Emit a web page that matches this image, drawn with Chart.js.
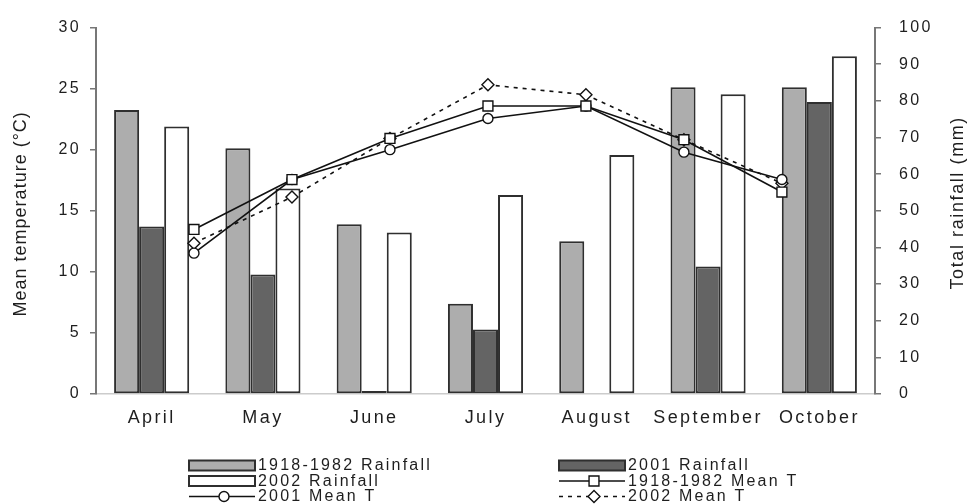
<!DOCTYPE html>
<html>
<head>
<meta charset="utf-8">
<script src="https://cdn.jsdelivr.net/npm/chart.js@4.4.0/dist/chart.umd.min.js"></script>
<style>
  html, body { margin: 0; padding: 0; background: #fff; }
  #wrap { width: 972px; height: 504px; position: relative; }
  #wrap canvas { position: absolute; left: 0; top: 0; }
  #lines { pointer-events: none; }
</style>
</head>
<body>
<div id="wrap">
  <canvas id="bars" width="972" height="504"></canvas>
  <canvas id="lines" width="972" height="504"></canvas>
</div>
<script>
// Monthly rainfall (mm, right axis) and mean temperature (°C, left axis)
const months = ['April', 'May', 'June', 'July', 'August', 'September', 'October'];

const rainLongTerm = [77.5, 67.1, 46.3, 24.6, 41.7, 83.7, 83.7];
const rain2001     = [45.7, 32.6, 0.8, 17.6, 0, 34.8, 79.7];
const rain2002     = [73.0, 56.1, 44.1, 54.3, 65.2, 81.8, 92.2];

const tempLongTerm = [13.2, 17.2, 20.5, 23.1, 23.1, 20.4, 16.2];
const temp2001     = [11.3, 17.2, 19.6, 22.1, 23.1, 19.4, 17.2];
const temp2002     = [12.1, 15.8, 20.5, 24.8, 24.0, 20.4, 16.9];

const tempAxis = { min: 0, max: 30, step: 5 };
const rainAxis = { min: 0, max: 100, step: 10 };

const FONT = "'Liberation Sans', Arial, sans-serif";
const INK = '#1e1e1e';
const AXIS = '#777777';

// plot frame shared by both layers
const FRAME = { left: 96, right: 97, top: 20, xAxisH: 40, bottom: 70 };

// temperature series sit on their own month index scale (1..7)
const toPoints = arr => arr.map((v, i) => ({ x: i + 1, y: v }));

const barBase = {
  yAxisID: 'y2',
  borderColor: '#2f2f2f',
  borderWidth: 2,
  borderSkipped: false,
  categoryPercentage: 0.675,
  barPercentage: 1
};
const lineBase = {
  borderColor: '#111',
  borderWidth: 1.6,
  pointBackgroundColor: '#fff',
  pointBorderColor: '#111',
  pointBorderWidth: 1.4,
  tension: 0,
  fill: false
};

const barSets = [
  { ...barBase, label: '1918-1982 Rainfall', data: rainLongTerm, backgroundColor: '#adadad' },
  { ...barBase, label: '2001 Rainfall', data: rain2001, backgroundColor: '#646464' },
  { ...barBase, label: '2002 Rainfall', data: rain2002, backgroundColor: '#ffffff' }
];
const lineSets = [
  { ...lineBase, label: '1918-1982 Mean T', data: toPoints(tempLongTerm), pointStyle: 'rect', pointRadius: 7 },
  { ...lineBase, label: '2001 Mean T', data: toPoints(temp2001), pointStyle: 'circle', pointRadius: 5 },
  { ...lineBase, label: '2002 Mean T', data: toPoints(temp2002), pointStyle: 'rectRot', pointRadius: 6, borderDash: [4, 5] }
];

// legend grid: two columns, three rows
const legendRows = [
  [barSets[0], barSets[1]],
  [barSets[2], lineSets[0]],
  [lineSets[1], lineSets[2]]
];

const letterSpacing = {
  id: 'letterSpacing',
  beforeLayout(chart) { chart.ctx.letterSpacing = '2.4px'; },
  beforeDraw(chart) { chart.ctx.letterSpacing = '2.4px'; }
};

const titlesAndLegend = {
  id: 'titlesAndLegend',
  afterDraw(chart) {
    const ctx = chart.ctx;
    const area = chart.chartArea;
    const midY = (area.top + area.bottom) / 2;

    // axis titles
    ctx.save();
    ctx.letterSpacing = '1px';
    ctx.fillStyle = INK;
    ctx.font = `18px ${FONT}`;
    ctx.textAlign = 'center';
    ctx.textBaseline = 'middle';
    ctx.translate(21, midY + 3);
    ctx.rotate(-Math.PI / 2);
    ctx.fillText('Mean temperature (°C)', 0, 0);
    ctx.restore();

    ctx.save();
    ctx.letterSpacing = '1.6px';
    ctx.fillStyle = INK;
    ctx.font = `18px ${FONT}`;
    ctx.textAlign = 'center';
    ctx.textBaseline = 'middle';
    ctx.translate(958, midY - 8);
    ctx.rotate(-Math.PI / 2);
    ctx.fillText('Total rainfall (mm)', 0, 0);
    ctx.restore();

    // legend
    const colX = [189, 559];
    const swatchW = 66;
    const rowY0 = chart.height - 38.5;
    const rowGap = 15.5;
    ctx.save();
    ctx.letterSpacing = '2.2px';
    ctx.font = `16px ${FONT}`;
    ctx.textBaseline = 'middle';
    ctx.textAlign = 'left';
    legendRows.forEach((row, r) => {
      const y = rowY0 + r * rowGap;
      row.forEach((ds, c) => {
        const x = colX[c];
        ctx.save();
        if (ds.pointStyle) {
          ctx.strokeStyle = ds.borderColor;
          ctx.lineWidth = ds.borderWidth;
          ctx.setLineDash(ds.borderDash || []);
          ctx.beginPath();
          ctx.moveTo(x, y);
          ctx.lineTo(x + swatchW, y);
          ctx.stroke();
          ctx.setLineDash([]);
          ctx.fillStyle = ds.pointBackgroundColor;
          ctx.strokeStyle = ds.pointBorderColor;
          ctx.lineWidth = ds.pointBorderWidth;
          Chart.helpers.drawPoint(ctx, {
            pointStyle: ds.pointStyle,
            radius: ds.pointRadius,
            rotation: 0,
            borderWidth: ds.pointBorderWidth
          }, x + swatchW / 2 + 2, y);
        } else {
          ctx.fillStyle = ds.backgroundColor;
          ctx.fillRect(x, y - 5, swatchW, 10);
          ctx.strokeStyle = ds.borderColor;
          ctx.lineWidth = 2;
          ctx.strokeRect(x, y - 5, swatchW, 10);
        }
        ctx.restore();
        ctx.fillStyle = INK;
        ctx.fillText(ds.label, x + swatchW + 3, y + 0.5);
      });
    });
    ctx.restore();
  }
};

// bars, axes, titles and legend
new Chart(document.getElementById('bars'), {
  type: 'bar',
  data: { labels: months, datasets: barSets },
  options: {
    responsive: false,
    animation: false,
    devicePixelRatio: 1,
    layout: { padding: { left: 0, right: 0, top: FRAME.top, bottom: FRAME.bottom } },
    plugins: { legend: { display: false }, tooltip: { enabled: false } },
    scales: {
      x: {
        type: 'category',
        offset: true,
        grid: { display: false, drawTicks: false },
        border: { display: true, color: '#cccccc', width: 1.5 },
        ticks: { font: { family: FONT, size: 18 }, color: INK, padding: 13, maxRotation: 0, autoSkip: false },
        afterFit(scale) { scale.height = FRAME.xAxisH; }
      },
      y: {
        position: 'left',
        min: tempAxis.min,
        max: tempAxis.max,
        ticks: { stepSize: tempAxis.step, font: { family: FONT, size: 16 }, color: INK, padding: 9 },
        grid: { drawOnChartArea: false, tickLength: 6, color: AXIS, lineWidth: 1.5 },
        border: { display: true, color: AXIS, width: 2 },
        afterFit(scale) { scale.width = FRAME.left; }
      },
      y2: {
        position: 'right',
        min: rainAxis.min,
        max: rainAxis.max,
        ticks: { stepSize: rainAxis.step, font: { family: FONT, size: 16 }, color: INK, padding: 18 },
        grid: { drawOnChartArea: false, tickLength: 6, color: AXIS, lineWidth: 1.5 },
        border: { display: true, color: AXIS, width: 2 },
        afterFit(scale) { scale.width = FRAME.right; }
      }
    }
  },
  plugins: [letterSpacing, titlesAndLegend]
});

// temperature lines on a transparent layer sharing the same plot frame
new Chart(document.getElementById('lines'), {
  type: 'line',
  data: { datasets: lineSets },
  options: {
    responsive: false,
    animation: false,
    devicePixelRatio: 1,
    layout: {
      padding: {
        left: FRAME.left,
        right: FRAME.right,
        top: FRAME.top,
        bottom: FRAME.bottom + FRAME.xAxisH
      }
    },
    plugins: { legend: { display: false }, tooltip: { enabled: false } },
    scales: {
      x: { type: 'linear', display: false, offset: false, min: 0, max: 7.95 },
      y: { type: 'linear', display: false, min: tempAxis.min, max: tempAxis.max }
    },
    datasets: { line: { clip: false } }
  }
});
</script>
</body>
</html>
